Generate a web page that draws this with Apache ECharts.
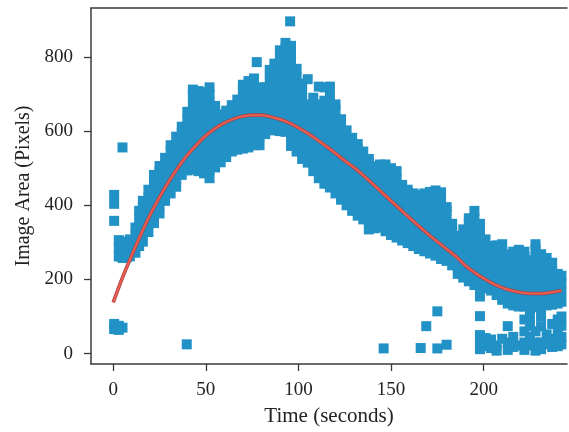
<!DOCTYPE html>
<html>
<head>
<meta charset="utf-8">
<script src="https://cdn.jsdelivr.net/npm/echarts@6/dist/echarts.min.js"></script>
<style>html,body{margin:0;padding:0;background:#fff}#c{width:569px;height:432px}</style>
</head>
<body>
<div id="c"></div>
<script>
// Tick labels
const xTicks = [0, 50, 100, 150, 200];
const yTicks = [0, 200, 400, 600, 800];

// Scatter columns: [time, [image areas...]]
const bandCols = [
  [0.5, [428, 404, 358, 80, 66]],
  [3, [262, 285, 306, 75, 64]],
  [5, [556, 258, 280, 302, 70]],
  [7, [258, 280, 300]],
  [9, [262, 285, 308]],
  [12, [272, 295, 318, 340]],
  [14, [290, 315, 340, 365, 385]],
  [16, [302, 325, 348, 372, 395, 412]],
  [19, [328, 350, 374, 398, 420, 442]],
  [22, [352, 375, 398, 420, 445, 468, 482]],
  [25, [378, 400, 424, 448, 470, 492, 506]],
  [28, [412, 435, 458, 482, 505, 528]],
  [31, [432, 455, 478, 500, 522, 545, 562]],
  [34, [450, 472, 495, 518, 540, 562, 585]],
  [37, [482, 505, 528, 550, 572, 595, 612]],
  [40, [494, 518, 540, 562, 585, 608, 630, 652]],
  [43, [496, 520, 542, 565, 588, 610, 632, 655, 678, 700, 712]],
  [46, [492, 515, 538, 560, 582, 605, 628, 650, 672, 695, 708]],
  [49, [486, 510, 532, 555, 578, 600, 622, 645, 668, 690, 705]],
  [52, [473, 496, 520, 542, 565, 588, 610, 632, 655, 678, 700, 718]],
  [55, [502, 525, 548, 570, 592, 615, 638, 660, 668]],
  [58, [516, 540, 562, 585, 608, 630, 645]],
  [61, [530, 552, 575, 598, 620, 642, 655]],
  [64, [545, 568, 590, 612, 635, 658, 670]],
  [67, [550, 572, 595, 618, 640, 662, 685]],
  [70, [553, 576, 598, 620, 642, 665, 688, 710, 725]],
  [73, [556, 578, 600, 622, 645, 668, 690, 712, 735]],
  [76, [562, 585, 608, 630, 652, 675, 698, 720, 742]],
  [77.5, [786]],
  [79, [562, 585, 608, 630, 652, 675, 698, 718]],
  [82, [592, 615, 638, 660, 682, 705, 718]],
  [84.5, [605, 628, 650, 672, 695, 718, 740, 765]],
  [87, [602, 625, 648, 670, 692, 715, 738, 760, 782]],
  [90, [600, 622, 645, 668, 690, 712, 735, 758, 780, 800, 818]],
  [93, [598, 620, 642, 665, 688, 710, 732, 755, 778, 800, 822, 838]],
  [95.5, [896]],
  [96, [560, 582, 605, 628, 650, 672, 695, 718, 740, 762, 785, 808, 830]],
  [99, [545, 568, 590, 612, 635, 658, 680, 702, 725, 748, 768]],
  [102, [525, 548, 570, 592, 615, 638, 660, 682, 705, 728]],
  [105, [515, 538, 560, 582, 605, 628, 650, 672, 740]],
  [108, [492, 515, 538, 560, 582, 605, 628, 650, 672, 690]],
  [111, [473, 496, 518, 540, 562, 585, 608, 630, 652, 672, 720]],
  [114, [458, 480, 502, 525, 548, 570, 592, 615, 638, 660, 682, 718]],
  [117, [448, 470, 492, 515, 538, 560, 582, 605, 628, 650, 672, 695, 720]],
  [120, [432, 455, 478, 500, 522, 545, 568, 590, 612, 635, 658, 672]],
  [123, [415, 438, 460, 482, 505, 528, 550, 572, 595, 618, 632]],
  [126, [400, 422, 445, 468, 490, 512, 535, 558, 580, 602]],
  [129, [385, 408, 430, 452, 475, 498, 520, 542, 565, 582]],
  [132, [372, 395, 418, 440, 462, 485, 508, 530, 552, 565]],
  [135, [362, 385, 408, 430, 452, 475, 498, 520, 545]],
  [138, [335, 358, 380, 402, 425, 448, 470, 492, 515, 525]],
  [141, [338, 360, 382, 405, 428, 450, 472, 495, 505]],
  [144, [340, 362, 385, 408, 430, 452, 475, 498, 510]],
  [146, [14]],
  [147, [330, 352, 375, 398, 420, 442, 465, 488, 510]],
  [150, [320, 342, 365, 388, 410, 432, 455, 478, 500]],
  [153, [313, 335, 358, 380, 402, 425, 448, 470, 492]],
  [156, [305, 328, 350, 372, 395, 418, 440, 455]],
  [159, [298, 320, 342, 365, 388, 410, 432, 442]],
  [162, [290, 312, 335, 358, 380, 402, 425, 432]],
  [165, [282, 305, 328, 350, 372, 395, 418, 428]],
  [166, [15]],
  [168, [276, 298, 320, 342, 365, 388, 410, 432]],
  [169, [74]],
  [171, [270, 292, 315, 338, 360, 382, 405, 428, 436]],
  [174, [264, 286, 308, 330, 352, 375, 398, 420, 440]],
  [175, [114, 14]],
  [177, [255, 278, 300, 322, 345, 368, 390, 412, 435]],
  [180, [250, 272, 295, 318, 340, 362, 385, 395, 24]],
  [183, [238, 260, 282, 305, 328, 350]],
  [186, [215, 238, 260, 282, 305, 318]],
  [189, [205, 228, 250, 272, 295, 318, 335]],
  [192, [195, 218, 240, 262, 285, 308, 330, 352, 365]],
  [195, [185, 208, 230, 252, 275, 298, 320, 342, 365, 385]],
  [198, [180, 202, 225, 248, 270, 292, 315, 338, 350, 154, 101, 50, 30, 12]],
  [201, [176, 198, 220, 242, 265, 288, 308, 42, 20]],
  [204, [170, 192, 215, 238, 260, 282, 290, 38, 15]],
  [207, [158, 180, 202, 225, 248, 270, 292, 22, 8]],
  [210, [145, 168, 190, 212, 235, 258, 280, 295, 40]],
  [213, [135, 158, 180, 202, 225, 248, 268, 74, 30, 10]],
  [216, [130, 152, 175, 198, 220, 242, 265, 275, 45, 18]],
  [219, [127, 150, 172, 195, 218, 240, 262, 280, 22]],
  [222, [127, 150, 172, 195, 218, 240, 262, 275, 92, 60, 30, 10]],
  [225, [125, 148, 170, 192, 215, 238, 252, 100, 75, 45, 22]],
  [228, [125, 148, 170, 192, 215, 238, 260, 282, 295, 60, 30, 8]],
  [231, [125, 148, 170, 192, 215, 238, 260, 268, 100, 74, 30, 12]],
  [234, [130, 152, 175, 198, 220, 242, 258, 52, 25]],
  [237, [132, 155, 178, 200, 222, 245, 80, 40, 18]],
  [240, [135, 158, 180, 202, 215, 92, 60, 20]],
  [242, [140, 165, 190, 210, 100, 75, 45, 25]]
];
const loneTimes = [39.7];
const loneAreas = [25];

// Fitted curve
const curveTime = [0, 5, 10, 15, 20, 25, 30, 35, 40, 45, 50, 55, 60, 65, 70, 75, 80, 85, 90, 95, 100, 105, 110, 115, 120, 125, 130, 135, 140, 145, 150, 155, 160, 165, 170, 175, 180, 185, 190, 195, 200, 205, 210, 215, 220, 225, 230, 235, 240, 242];
const curveArea = [138, 205, 265, 322, 375, 422, 464, 502, 535, 563, 588, 607, 622, 633, 640, 643, 643, 639, 632, 622, 609, 594, 577, 559, 540, 520, 502, 481, 458, 435, 412, 389, 366, 344, 322, 302, 282, 262, 238, 219, 203, 189, 178, 170, 165, 162, 162, 164, 168, 170];

const points = [];
bandCols.forEach(([t, vs]) => vs.forEach(v => points.push([t, v])));
loneTimes.forEach((t, i) => points.push([t, loneAreas[i]]));
const curve = curveTime.map((t, i) => [t, curveArea[i]]);

const FONT = 'Liberation Serif';
const axisColor = '#3a3a3a';
const chart = echarts.init(document.getElementById('c'), null, {renderer: 'canvas'});
chart.setOption({
  backgroundColor: '#ffffff',
  animation: false,
  grid: {left: 91, top: 8, right: 2, bottom: 64, containLabel: false},
  xAxis: [{
    type: 'value', min: -12, max: 245,
    name: 'Time (seconds)', nameLocation: 'middle', nameGap: 42,
    nameTextStyle: {fontFamily: FONT, fontSize: 21, color: '#222'},
    splitLine: {show: false},
    axisLine: {show: true, onZero: false, lineStyle: {color: axisColor, width: 1.5}},
    axisTick: {show: true, length: 7, lineStyle: {color: axisColor, width: 1.3}, customValues: xTicks},
    axisLabel: {fontFamily: FONT, fontSize: 19, color: '#222', margin: 17, customValues: xTicks}
  }, {
    type: 'value', min: -12, max: 245, position: 'top',
    splitLine: {show: false},
    axisLine: {show: true, onZero: false, lineStyle: {color: axisColor, width: 1.5}},
    axisTick: {show: false}, axisLabel: {show: false}
  }],
  yAxis: {
    type: 'value', min: -28, max: 932,
    name: 'Image Area (Pixels)', nameLocation: 'middle', nameGap: 55, nameRotate: 90,
    nameTextStyle: {fontFamily: FONT, fontSize: 20, color: '#222'},
    splitLine: {show: false},
    axisLine: {show: true, onZero: false, lineStyle: {color: axisColor, width: 1.5}},
    axisTick: {show: true, length: 7, lineStyle: {color: axisColor, width: 1.3}, customValues: yTicks},
    axisLabel: {fontFamily: FONT, fontSize: 19, color: '#222', margin: 18, customValues: yTicks}
  },
  series: [{
    type: 'scatter', xAxisIndex: 0, data: points, symbol: 'rect', symbolSize: 10,
    itemStyle: {color: '#2191c6', opacity: 1}, silent: true, z: 2
  }, {
    type: 'line', xAxisIndex: 0, data: curve, smooth: 0.4, symbol: 'none',
    lineStyle: {color: '#a8434a', width: 3.6}, silent: true, z: 3
  }, {
    type: 'line', xAxisIndex: 0, data: curve, smooth: 0.4, symbol: 'none',
    lineStyle: {color: '#ec5f50', width: 2}, silent: true, z: 4
  }]
});
</script>
</body>
</html>
